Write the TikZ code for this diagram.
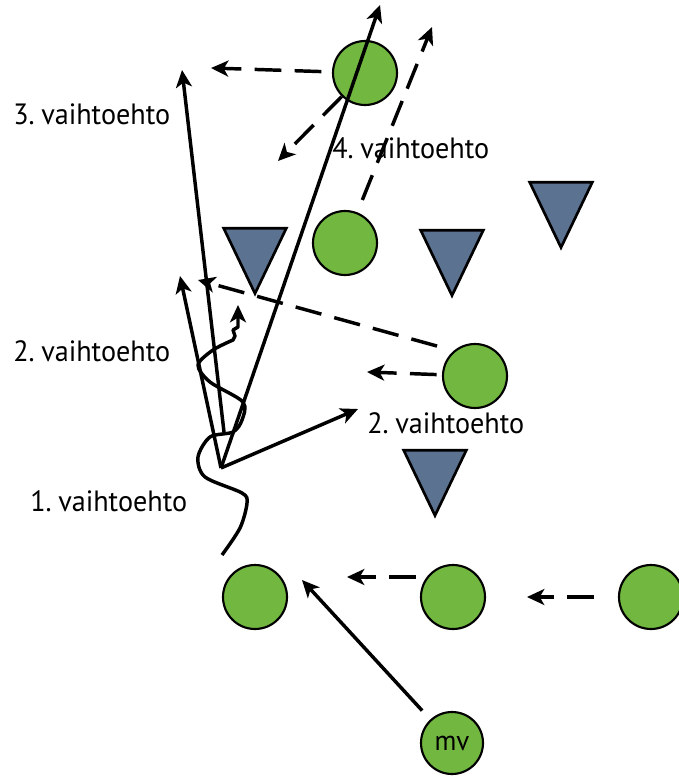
\documentclass[tikz,border=0pt]{standalone}
\usepackage{fontspec}
\setmainfont{PT Sans}[FakeStretch=0.96,WordSpace=0.55]
\usetikzlibrary{arrows.meta,shapes.geometric}

\definecolor{ballgreen}{RGB}{114,184,64}
\definecolor{conegray}{RGB}{92,114,145}

\tikzset{
  ball/.style={circle, draw=black, line width=1.6, fill=ballgreen, minimum size=48pt, inner sep=0pt},
  cone/.style={isosceles triangle, isosceles triangle stretches, shape border rotate=-90, draw=black, line width=2, fill=conegray, minimum width=47pt, minimum height=49pt, inner sep=0pt, anchor=apex},
  move/.style={line width=2.6, -{Stealth[length=13pt,width=12pt,inset=3.5pt]}},
  pass/.style={move, dash pattern=on 20pt off 10pt},
  lbl/.style={anchor=base west, inner sep=0pt, font=\fontsize{22}{26}\selectfont}
}

\begin{document}
\begin{tikzpicture}[x=0.75pt,y=0.75pt,yscale=-1,xscale=1]
\useasboundingbox (0,0) rectangle (678,781);

%Shape: Triangle
\node[cone] (t1) at (255,297) {};
\node[cone] (t2) at (452,299) {};
\node[cone] (t3) at (561,251) {};
\node[cone] (t4) at (435,519) {};

%Shape: Circle
\node[ball] (ctop) at (365,73) {};
\node[ball] (cmid) at (345,243) {};
\node[ball] (cright) at (475,376) {};
\node[ball] (cb1) at (255,597) {};
\node[ball] (cb2) at (453,597) {};
\node[ball] (cb3) at (651,597) {};
\node[ball, minimum size=46.5pt, font=\fontsize{21}{24}\selectfont] (mv) at (452,743) {mv};

% end points
\coordinate (o) at (221,468);
\coordinate (o3) at (224,432);
\coordinate (tip3) at (182,70);
\coordinate (tip2l) at (180,276);
\coordinate (tip4) at (380,5);
\coordinate (tip2r) at (358,409);
\coordinate (tipa) at (211,68);
\coordinate (tipb) at (278,161);
\coordinate (tipc) at (432,27);
\coordinate (tipd) at (367,372);
\coordinate (tipe) at (198,280);
\coordinate (tipf) at (347,577);
\coordinate (tipg) at (527,597);
\coordinate (tiph) at (302,580);

%Straight Lines
\draw[move] (o3) -- (tip3);
\draw[move] (o) -- (tip2l);
\draw[move] (o) -- (tip4);
\draw[move] (o) -- (tip2r);
\draw[move, shorten <=9pt] (mv) -- (tiph);

%Dashed Lines
\draw[pass, shorten <=8pt] (ctop) -- (tipa);
\draw[pass] (ctop) -- (tipb);
\draw[pass, shorten <=10pt] (cmid) -- (tipc);
\draw[pass, shorten <=4pt] (cright) -- (tipd);
\draw[pass, shorten <=13pt] (cright.130) -- (tipe);
\draw[pass, shorten <=3pt] (cb2.west |- tipf) -- (tipf);
\draw[pass, shorten <=18pt] (cb3) -- (tipg);

%Curve Lines
\draw[move, line join=round] plot[smooth, tension=0.5] coordinates {(222,555) (240,528) (247,503) (242,493) (205,477) (198,457) (210,437) (233,432) (242,420) (243,402) (210,382) (198,365) (213,350) (233,340)} -- (235,336) -- (233,330) -- (238,327) -- (238,305);

% Text Node
\node[lbl] (l3) at (13,125) {3. vaihtoehto};
% Text Node
\node[lbl] (l4) at (332,158) {4. vaihtoehto};
% Text Node
\node[lbl] (l2a) at (13,361) {2. vaihtoehto};
% Text Node
\node[lbl] (l2b) at (367,433) {2. vaihtoehto};
% Text Node
\node[lbl] (l1) at (30,511) {1. vaihtoehto};

\end{tikzpicture}
\end{document}
